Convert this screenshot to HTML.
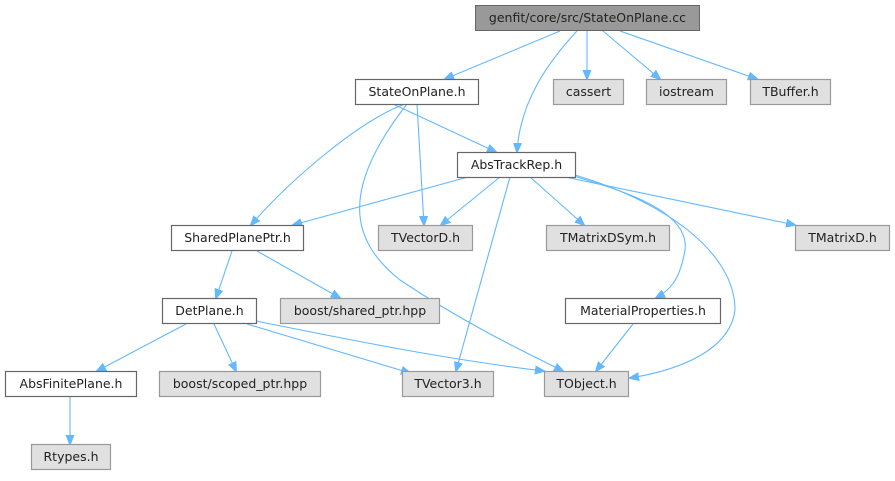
<!DOCTYPE html>
<html><head><meta charset="utf-8"><style>
body{margin:0;background:#fff;width:895px;height:476px;overflow:hidden}
text{font-family:"DejaVu Sans","Liberation Sans",sans-serif;font-size:12.5px;fill:#222}
.w{fill:#fff;stroke:#666;stroke-width:1.2}
.g{fill:#e0e0e0;stroke:#999;stroke-width:1.2}
.e{fill:none;stroke:#63b8ff;stroke-width:1.1;marker-end:url(#a)}
</style></head><body>
<svg width="895" height="476" viewBox="0 0 895 476">
<defs><marker id="a" markerWidth="10" markerHeight="10" refX="9" refY="5" orient="auto" markerUnits="userSpaceOnUse"><path d="M0,1 L10,5 L0,9 Z" fill="#63b8ff" stroke="#63b8ff"/></marker></defs>
<!-- edges -->
<path class="e" d="M560,31 L445,79"/>
<path class="e" d="M577,31 C550,60 520,100 517,152"/>
<path class="e" d="M587,31 L587,79"/>
<path class="e" d="M603,31 L660,79"/>
<path class="e" d="M620,31 L757,79"/>
<path class="e" d="M393,104 L496,152"/>
<path class="e" d="M405,104 C360,120 290,180 251,225"/>
<path class="e" d="M417,104 L424,225"/>
<path class="e" d="M407,104 C340,190 350,240 400,280 C460,320 510,345 563,371"/>
<path class="e" d="M468,177 L293,225"/>
<path class="e" d="M500,177 L441,225"/>
<path class="e" d="M530,177 L584,225"/>
<path class="e" d="M510,177 L456,371"/>
<path class="e" d="M565,177 L795,225"/>
<path class="e" d="M570,175 C620,190 690,210 685,250 C680,280 670,290 656,298"/>
<path class="e" d="M575,175 C660,200 735,250 735,310 C730,350 680,370 630,378"/>
<path class="e" d="M232,251 L216,298"/>
<path class="e" d="M257,251 L340,298"/>
<path class="e" d="M186,324 L97,371"/>
<path class="e" d="M214,324 L236,371"/>
<path class="e" d="M247,324 L410,373"/>
<path class="e" d="M256,321 C350,340 450,360 544,371"/>
<path class="e" d="M633,324 L596,371"/>
<path class="e" d="M70,397 L70,444"/>
<!-- nodes -->
<rect x="475.5" y="5.5" width="224" height="25" fill="#999" stroke="#666"/><text x="587.5" y="22" text-anchor="middle">genfit/core/src/StateOnPlane.cc</text>
<rect class="w" x="355.5" y="79.5" width="123" height="25"/><text x="417" y="96" text-anchor="middle">StateOnPlane.h</text>
<rect class="g" x="553.5" y="79.5" width="70" height="25"/><text x="588.5" y="96" text-anchor="middle">cassert</text>
<rect class="g" x="646.5" y="79.5" width="80" height="25"/><text x="686.5" y="96" text-anchor="middle">iostream</text>
<rect class="g" x="750.5" y="79.5" width="80" height="25"/><text x="790.5" y="96" text-anchor="middle">TBuffer.h</text>
<rect class="w" x="457.5" y="152.5" width="118" height="25"/><text x="516.5" y="169" text-anchor="middle">AbsTrackRep.h</text>
<rect class="w" x="171.5" y="225.5" width="132" height="25"/><text x="237.5" y="242" text-anchor="middle">SharedPlanePtr.h</text>
<rect class="g" x="378.5" y="225.5" width="94" height="25"/><text x="425.5" y="242" text-anchor="middle">TVectorD.h</text>
<rect class="g" x="546.5" y="225.5" width="123" height="25"/><text x="608" y="242" text-anchor="middle">TMatrixDSym.h</text>
<rect class="g" x="795.5" y="225.5" width="94" height="25"/><text x="842.5" y="242" text-anchor="middle">TMatrixD.h</text>
<rect class="w" x="162.5" y="298.5" width="94" height="25"/><text x="209.5" y="315" text-anchor="middle">DetPlane.h</text>
<rect class="g" x="280.5" y="298.5" width="159" height="25"/><text x="360" y="315" text-anchor="middle">boost/shared_ptr.hpp</text>
<rect class="w" x="565.5" y="298.5" width="155" height="25"/><text x="643" y="315" text-anchor="middle">MaterialProperties.h</text>
<rect class="w" x="5.5" y="371.5" width="131" height="25"/><text x="71" y="388" text-anchor="middle">AbsFinitePlane.h</text>
<rect class="g" x="159.5" y="371.5" width="161" height="25"/><text x="240" y="388" text-anchor="middle">boost/scoped_ptr.hpp</text>
<rect class="g" x="402.5" y="371.5" width="91" height="25"/><text x="448" y="388" text-anchor="middle">TVector3.h</text>
<rect class="g" x="544.5" y="371.5" width="84" height="25"/><text x="586.5" y="388" text-anchor="middle">TObject.h</text>
<rect class="g" x="31.5" y="444.5" width="79" height="25"/><text x="71" y="461" text-anchor="middle">Rtypes.h</text>
</svg>
</body></html>
